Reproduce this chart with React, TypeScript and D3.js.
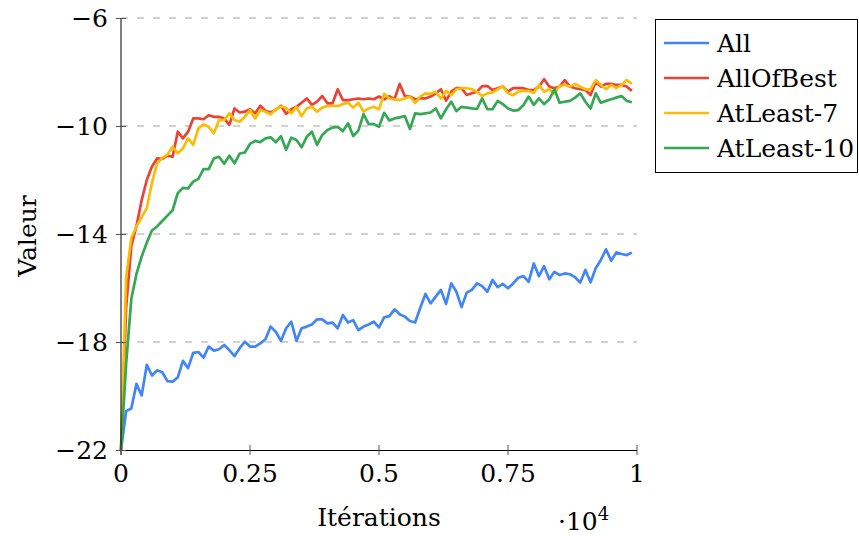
import React from "react";
import * as d3 from "d3";

const iterations: number[] = Array.from({ length: 100 }, (_, i) => i * 100);

const allValues: number[] = [
  -22, -20.56, -20.46, -19.55, -19.98, -18.85, -19.24, -19.05, -19.12, -19.45,
  -19.47, -19.31, -18.7, -18.97, -18.4, -18.37, -18.58, -18.17, -18.32, -18.27,
  -18.11, -18.3, -18.52, -18.23, -17.99, -18.17, -18.17, -18.05, -17.9, -17.43,
  -17.62, -17.96, -17.49, -17.25, -17.96, -17.49, -17.43, -17.35, -17.16, -17.16,
  -17.31, -17.28, -17.49, -17.0, -17.28, -17.19, -17.56, -17.43, -17.35, -17.25,
  -17.46, -17.09, -17.04, -16.79, -16.97, -17.06, -17.22, -17.28, -16.73, -16.22,
  -16.57, -16.32, -16.07, -16.59, -15.83, -16.14, -16.71, -16.17, -16.07, -15.83,
  -15.93, -16.14, -15.7, -15.97, -15.85, -16.01, -15.83, -15.62, -15.56, -15.77,
  -15.09, -15.56, -15.19, -15.68, -15.4, -15.52, -15.46, -15.49, -15.6, -15.8,
  -15.33, -15.79, -15.27, -14.96, -14.57, -14.99, -14.68, -14.74, -14.78, -14.69,
];

const allOfBestValues: number[] = [
  -22, -16.7, -14.45, -13.7, -12.75, -12.0, -11.5, -11.2, -11.22, -11.1,
  -11.14, -10.21, -10.46, -10.21, -9.72, -9.72, -9.75, -9.6, -9.66, -9.66,
  -9.72, -9.96, -9.35, -9.5, -9.47, -9.38, -9.53, -9.25, -9.44, -9.5,
  -9.4, -9.25, -9.55, -9.38, -9.29, -9.14, -8.98, -9.22, -9.1, -8.89,
  -9.16, -9.16, -8.64, -9.04, -9.04, -9.01, -8.98, -9.01, -8.98, -9.01,
  -8.91, -9.01, -8.89, -9.01, -8.44, -8.89, -8.91, -9.01, -8.98, -8.98,
  -8.91, -8.79, -8.64, -9.06, -8.73, -8.6, -8.6, -8.85, -8.79, -8.73,
  -8.52, -8.52, -8.67, -8.6, -8.54, -8.73, -8.6, -8.6, -8.6, -8.67,
  -8.67, -8.54, -8.27, -8.54, -8.6, -8.54, -8.3, -8.54, -8.6, -8.64,
  -8.67, -8.85, -8.36, -8.54, -8.44, -8.44, -8.48, -8.48, -8.54, -8.7,
];

const atLeast7Values: number[] = [
  -22, -15.6, -14.15, -13.72, -13.38, -13.04, -12.1, -11.38, -11.18, -11.06,
  -10.77, -11.01, -10.83, -10.46, -10.7, -10.09, -9.94, -10.03, -10.27, -9.78,
  -9.78, -9.53, -9.78, -9.84, -9.66, -9.41, -9.72, -9.41, -9.47, -9.57,
  -9.38, -9.28, -9.33, -9.53, -9.29, -9.63, -9.35, -9.29, -9.47, -9.32,
  -9.26, -9.26, -9.26, -9.19, -9.14, -9.32, -9.14, -9.47, -9.35, -9.29,
  -9.38, -8.81, -8.98, -9.01, -9.04, -8.98, -8.91, -9.14, -8.91, -8.79,
  -8.81, -8.73, -8.98, -8.7, -8.86, -8.64, -8.6, -8.6, -8.64, -8.73,
  -8.89, -8.79, -8.76, -8.64, -8.52, -8.79, -8.86, -8.73, -8.7, -8.7,
  -8.77, -8.48, -8.73, -8.64, -8.79, -8.52, -8.48, -8.54, -8.44, -8.54,
  -8.64, -8.64, -8.3, -8.48, -8.64, -8.48, -8.6, -8.48, -8.3, -8.44,
];

const atLeast10Values: number[] = [
  -22, -18.8, -16.4, -15.48, -14.84, -14.32, -13.87, -13.72, -13.52, -13.32,
  -13.12, -12.49, -12.29, -12.31, -12.06, -11.96, -11.6, -11.6, -11.2, -11.14,
  -11.4, -11.1, -11.38, -11.02, -10.98, -10.66, -10.55, -10.6, -10.46, -10.42,
  -10.6, -10.38, -10.88, -10.43, -10.52, -10.79, -10.4, -10.21, -10.7, -10.33,
  -10.15, -10.06, -10.03, -10.19, -9.9, -10.37, -10.17, -9.56, -9.93, -9.93,
  -10.03, -9.51, -9.8, -9.72, -9.68, -9.63, -10.11, -9.53, -9.56, -9.53,
  -9.5, -9.35, -9.72, -9.38, -9.1, -9.45, -9.29, -9.32, -9.35, -9.37,
  -8.98, -9.38, -9.38, -9.07, -9.19, -9.35, -9.43, -9.41, -9.22, -8.91,
  -9.22, -8.98, -9.19, -9.01, -8.64, -9.14, -9.1, -9.07, -8.95, -8.79,
  -9.1, -9.35, -8.79, -9.14, -9.07, -9.01, -8.95, -8.89, -9.07, -9.12,
];

const seriesNames: string[] = ["All", "AllOfBest", "AtLeast-7", "AtLeast-10"];
const seriesColors: string[] = ["#4285F4", "#EA4335", "#FBBC05", "#34A853"];
const seriesData: number[][] = [allValues, allOfBestValues, atLeast7Values, atLeast10Values];

const yTicks: number[] = [-22, -18, -14, -10, -6];
const xTicks: number[] = [0, 2500, 5000, 7500, 10000];
const xTickLabels: string[] = ["0", "0.25", "0.5", "0.75", "1"];

const FONT = '"DejaVu Serif", serif';

export default function App() {
  const width = 859;
  const height = 536;
  const left = 121;
  const right = 637;
  const top = 18;
  const bottom = 450;

  const x = d3.scaleLinear().domain([0, 10000]).range([left, right]);
  const y = d3.scaleLinear().domain([-22, -6]).range([bottom, top]);

  const line = d3
    .line<number>()
    .x((_, i) => x(iterations[i]))
    .y((d) => y(d));

  const fmt = (v: number) => (v < 0 ? "\u2212" + Math.abs(v) : String(v));
  const ts = { fontFamily: FONT, fontSize: 25 } as React.CSSProperties;

  return (
    <svg
      width={width}
      height={height}
      style={{ position: "absolute", left: 0, top: 0, background: "#fff" }}
    >
      <rect x={0} y={0} width={width} height={height} fill="#fff" />
      {yTicks
        .filter((t) => t !== -22)
        .map((t) => (
          <line
            key={"g" + t}
            x1={left}
            x2={right}
            y1={y(t)}
            y2={y(t)}
            stroke="#c4c4c4"
            strokeWidth={1.4}
            strokeDasharray="7 9"
          />
        ))}
      {seriesData.map((vals, k) => (
        <path
          key={seriesNames[k]}
          d={line(vals) || ""}
          fill="none"
          stroke={seriesColors[k]}
          strokeWidth={2.7}
          strokeLinejoin="round"
        />
      ))}
      <line x1={left} x2={left} y1={top} y2={bottom + 5} stroke="#000" strokeWidth={1} />
      <line x1={left - 5} x2={right} y1={bottom + 0.5} y2={bottom + 0.5} stroke="#000" strokeWidth={1} />
      {yTicks.map((t) => (
        <g key={"yt" + t}>
          <line x1={left - 5} x2={left + 5} y1={y(t) + 0.5} y2={y(t) + 0.5} stroke="#555" strokeWidth={1} />
          <text x={108} y={y(t)} dy="0.36em" textAnchor="end" style={ts} fill="#000">
            {fmt(t)}
          </text>
        </g>
      ))}
      {xTicks.map((t, i) => (
        <g key={"xt" + t}>
          <line x1={x(t)} x2={x(t)} y1={bottom - 5} y2={bottom + 5} stroke="#555" strokeWidth={1} />
          <text x={x(t)} y={482} textAnchor="middle" style={ts} fill="#000">
            {xTickLabels[i]}
          </text>
        </g>
      ))}
      <text x={379} y={526} textAnchor="middle" style={ts} fill="#000">
        Itérations
      </text>
      <text x={558} y={530} style={ts} fill="#000">
        ·10
        <tspan dy={-10} style={{ fontSize: 18 }}>
          4
        </tspan>
      </text>
      <text transform="translate(36, 236) rotate(-90)" textAnchor="middle" style={ts} fill="#000">
        Valeur
      </text>
      <rect x={655.5} y={19.5} width={202} height={153} fill="#fff" stroke="#000" strokeWidth={1} />
      {seriesNames.map((name, k) => (
        <g key={"lg" + name}>
          <line
            x1={664}
            x2={709}
            y1={43 + k * 35}
            y2={43 + k * 35}
            stroke={seriesColors[k]}
            strokeWidth={2.7}
          />
          <text x={717} y={43 + k * 35 + 9} style={ts} fill="#000">
            {name}
          </text>
        </g>
      ))}
    </svg>
  );
}
